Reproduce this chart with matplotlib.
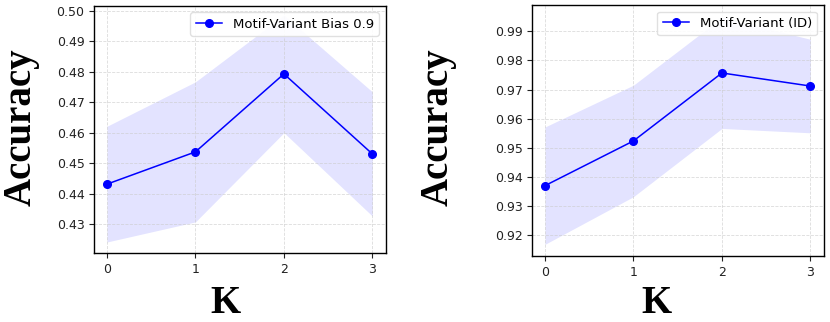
import matplotlib
matplotlib.use("Agg")
import matplotlib.pyplot as plt
import numpy as np

k_values = [0, 1, 2, 3]

bias_label = "Motif-Variant Bias 0.9"
bias_mean = [0.4431, 0.4537, 0.4793, 0.4530]
bias_std = [0.0190, 0.0230, 0.0193, 0.0204]

id_label = "Motif-Variant (ID)"
id_mean = [0.9369, 0.9523, 0.9757, 0.9712]
id_std = [0.0202, 0.0192, 0.0191, 0.0161]

bias_yticks = [0.43, 0.44, 0.45, 0.46, 0.47, 0.48, 0.49, 0.50]
id_yticks = [0.92, 0.93, 0.94, 0.95, 0.96, 0.97, 0.98, 0.99]

fig = plt.figure(figsize=(8.3, 3.22), dpi=100)
ax1 = fig.add_axes([0.1136, 0.2134, 0.3511, 0.7689])
ax2 = fig.add_axes([0.6413, 0.2050, 0.3511, 0.7795])

panels = [
    (ax1, bias_label, bias_mean, bias_std, bias_yticks, (0.4204, 0.5017)),
    (ax2, id_label, id_mean, id_std, id_yticks, (0.9127, 0.9991)),
]

for ax, label, mean, std, yt, ylim in panels:
    m = np.array(mean)
    s = np.array(std)
    ax.fill_between(k_values, m - s, m + s, color="blue", alpha=0.11, linewidth=0)
    ax.plot(k_values, m, color="blue", marker="o", markersize=5.5, linewidth=1.1, label=label)
    ax.set_xticks(k_values)
    ax.set_yticks(yt)
    ax.set_yticklabels([f"{v:.2f}" for v in yt])
    ax.set_ylim(*ylim)
    ax.set_xlim(-0.143, 3.15)
    ax.tick_params(labelsize=9, colors="#222222")
    ax.grid(True, linestyle="--", color="#cccccc", linewidth=0.6, alpha=0.7)
    ax.legend(loc="upper right", fontsize=9.5, fancybox=True, framealpha=0.9,
              edgecolor="#dddddd", handlelength=2.0, borderpad=0.4)
    for sp in ax.spines.values():
        sp.set_linewidth(1.0)

serif = {"family": "Liberation Serif", "weight": "bold", "size": 28}
fig.text(0.0253, 0.6056, "Accuracy", rotation=90, ha="center", va="center", fontdict=serif)
fig.text(0.5277, 0.6056, "Accuracy", rotation=90, ha="center", va="center", fontdict=serif)
fig.text(225 / 830, 0.0, "K", ha="center", va="bottom", fontdict=serif)
fig.text(656.7 / 830, 0.0, "K", ha="center", va="bottom", fontdict=serif)

fig.savefig("out.png", dpi=100)
